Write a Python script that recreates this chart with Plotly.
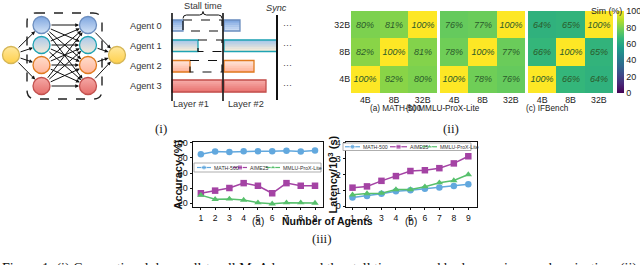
import plotly.graph_objects as go

W, H = 640, 265

# ---------------- data ----------------
agents = [1, 2, 3, 4, 5, 6, 7, 8, 9]
series_names = ["MATH-500", "AIME25", "MMLU-ProX-Lite"]
acc_math = [85, 88.5, 88, 89, 89, 89, 89.5, 88.5, 90]
acc_aime = [33, 36.5, 40, 46.5, 43, 33, 46.5, 43, 43]
acc_mmlu = [30.5, 25, 25.5, 24, 20.5, 19, 20.5, 20.5, 20]
lat_math = [0.55, 0.65, 0.78, 0.95, 1.0, 1.1, 1.18, 1.28, 1.38]
lat_aime = [1.17, 1.25, 1.6, 1.9, 2.22, 2.27, 2.4, 2.7, 3.15]
lat_mmlu = [0.72, 0.8, 0.82, 1.05, 1.05, 1.23, 1.48, 1.62, 2.0]
acc_ticks = [20, 40, 60, 80, 100]
lat_ticks = [0, 1, 2, 3, 4]

model_sizes = ["4B", "8B", "32B"]
heat_titles = ["(a) MATH-500", "(b) MMLU-ProX-Lite", "(c) IFBench"]
sim_math = [[100, 82, 80], [82, 100, 81], [80, 81, 100]]
sim_mmlu = [[100, 78, 76], [78, 100, 77], [76, 77, 100]]
sim_ifb = [[100, 66, 64], [66, 100, 65], [64, 65, 100]]
sim_ticks = [0, 20, 40, 60, 80, 100]

agent_labels = ["Agent 0", "Agent 1", "Agent 2", "Agent 3"]

# ---------------- helpers ----------------
def fx(p):
    return p / W

def fy(p):
    return 1 - p / H

FONT = "Liberation Sans, Arial, sans-serif"
SERIF = "Liberation Serif, Times New Roman, serif"
colors = ["#62A8DE", "#A443A4", "#57C06C"]
symbols = ["circle", "square", "triangle-up"]

fig = go.Figure()
shapes = []
annos = []

# ---------------- heatmaps (ii) ----------------
heat_x = [(351, 437), (440, 525), (528, 613)]
title_cx = [396, 482, 571]
for i, z in enumerate([sim_math, sim_mmlu, sim_ifb]):
    fig.add_trace(go.Heatmap(
        z=z, x=model_sizes, y=model_sizes,
        xaxis="x" if i == 0 else f"x{i+1}", yaxis="y" if i == 0 else f"y{i+1}",
        colorscale="Viridis", zmin=0, zmax=100,
        texttemplate="%{z}%",
        textfont=dict(size=9, color="#2b5a2b", style="italic", family=FONT),
        showscale=(i == 0), hoverinfo="skip",
        colorbar=dict(x=fx(617), xanchor="left", y=fy(52), yanchor="middle",
                      len=82 / H, lenmode="fraction", thickness=6.5, xpad=0, ypad=0,
                      outlinewidth=0, tickvals=sim_ticks, ticks="",
                      tickfont=dict(size=9, family=FONT, color="#222")),
    ))
    annos.append(dict(x=fx(title_cx[i]), y=fy(108.5), xref="paper", yref="paper",
                      text=heat_titles[i], showarrow=False, font=dict(size=8.2, family=FONT, color="#222")))

annos.append(dict(x=fx(624), y=fy(4), xref="paper", yref="paper", text="Sim (%)", showarrow=False,
                  font=dict(size=8.8, family=FONT, color="#222")))

# ---------------- line charts (iii) ----------------
for ys, name, c, s in zip([acc_math, acc_aime, acc_mmlu], series_names, colors, symbols):
    fig.add_trace(go.Scatter(x=agents, y=ys, name=name, xaxis="x4", yaxis="y4", mode="lines+markers",
                             line=dict(color=c, width=1.5), marker=dict(symbol=s, size=6.5, color=c),
                             showlegend=False, hoverinfo="skip"))
for ys, name, c, s in zip([lat_math, lat_aime, lat_mmlu], series_names, colors, symbols):
    fig.add_trace(go.Scatter(x=agents, y=ys, name=name, xaxis="x5", yaxis="y5", mode="lines+markers",
                             line=dict(color=c, width=1.5), marker=dict(symbol=s, size=6.5, color=c),
                             showlegend=False, hoverinfo="skip"))

# manual compact legends drawn on the pixel overlay axis
def legend(box, items, fsize):
    x0, x1, y0, y1 = box
    shapes.append(dict(type="rect", xref="x6", yref="y6", x0=x0, x1=x1, y0=y0, y1=y1,
                       line=dict(color="#999", width=0.8), fillcolor="white", layer="below"))
    yc = (y0 + y1) / 2
    for (lx0, lx1), name, c, s in zip(items, series_names, colors, symbols):
        fig.add_trace(go.Scatter(x=[lx0, (lx0 + lx1) / 2, lx1], y=[yc, yc, yc], xaxis="x6", yaxis="y6",
                                 mode="lines+markers", line=dict(color=c, width=1.2),
                                 marker=dict(symbol=s, size=[0, 5, 0], color=c),
                                 showlegend=False, hoverinfo="skip"))
        annos.append(dict(x=lx1 + 0.5, y=yc, xref="x6", yref="y6", xanchor="left", text=name,
                          showarrow=False, font=dict(size=fsize, family=FONT, color="#333")))

legend((194, 321, 163, 172), [(197, 211), (233, 247), (266, 280)], 5.2)
legend((343, 471, 143, 150.5), [(345, 360), (390, 407), (422, 437)], 5.2)

annos += [
    dict(x=fx(169), y=fy(174.5), xref="paper", yref="paper", text="<b>Accuracy (%)</b>", textangle=-90,
         showarrow=False, font=dict(size=11, family=FONT, color="#111")),
    dict(x=fx(332), y=fy(174.5), xref="paper", yref="paper", text="<b>Latency/10<sup>3</sup> (s)</b>",
         textangle=-90, showarrow=False, font=dict(size=11, family=FONT, color="#111")),
    dict(x=fx(258), y=fy(228.5), xref="paper", yref="paper", text="(a)", showarrow=False,
         font=dict(size=10, family=FONT, color="#111")),
    dict(x=fx(411), y=fy(228.5), xref="paper", yref="paper", text="(b)", showarrow=False,
         font=dict(size=10, family=FONT, color="#111")),
    dict(x=fx(327), y=fy(229), xref="paper", yref="paper", text="<b>Number of Agents</b>", showarrow=False,
         font=dict(size=10.5, family=FONT, color="#111")),
    dict(x=fx(153), y=fy(128), xref="paper", yref="paper", text="(i)", showarrow=False,
         font=dict(size=13, family=SERIF, color="#222")),
    dict(x=fx(461), y=fy(128), xref="paper", yref="paper", text="(ii)", showarrow=False,
         font=dict(size=13, family=SERIF, color="#222")),
    dict(x=fx(322), y=fy(248), xref="paper", yref="paper", text="(iii)", showarrow=False,
         font=dict(size=13, family=SERIF, color="#222")),
    dict(x=0, y=fy(258.5), xref="paper", yref="paper", xanchor="left", yanchor="top",
         text="Figure 1: (i) Conventional dense all-to-all MoA layer and the stall time caused by layer-wise synchronization; (ii) output similarity",
         showarrow=False, font=dict(size=14, family=SERIF, color="#111")),
]

# ---------------- network diagram (i) ----------------
r = 8.5
in_node = (11, 55)
out_node = (117, 55)
col1_x, col2_x = 41.5, 88
rows_y = [25, 45, 65, 86]
node_top = ["#7EA6E0", "#A9C8EA", "#FFDCCB", "#F5A9A6"]
node_bot = ["#D4E3F6", "#F5EBD8", "#FFB59C", "#E56E6B"]
node_line = ["#6C8EBF", "#1FA3B3", "#E07A1F", "#C2504D"]

def arrow(p0, p1):
    annos.append(dict(x=p1[0], y=p1[1], ax=p0[0], ay=p0[1], xref="x6", yref="y6", axref="x6", ayref="y6",
                      text="", showarrow=True, arrowhead=2, arrowsize=0.75, arrowwidth=1, arrowcolor="#111",
                      standoff=r + 0.5, startstandoff=r))

for yv in rows_y:
    arrow(in_node, (col1_x, yv))
for y0 in rows_y:
    for y1 in rows_y:
        arrow((col1_x, y0), (col2_x, y1))
for yv in rows_y:
    arrow((col2_x, yv), out_node)

nx = [in_node[0], out_node[0]] + [col1_x] * 4 + [col2_x] * 4
ny = [in_node[1], out_node[1]] + rows_y + rows_y
ctop = ["#FFE89E", "#FFE89E"] + node_top + node_top
cbot = ["#FFD04A", "#FFD04A"] + node_bot + node_bot
cline = ["#D6B656", "#D6B656"] + node_line + node_line
fig.add_trace(go.Scatter(x=nx, y=ny, xaxis="x6", yaxis="y6", mode="markers", showlegend=False, hoverinfo="skip",
                         marker=dict(size=2 * r, color=ctop, gradient=dict(type="vertical", color=cbot),
                                     line=dict(color=cline, width=1.3))))

bx0, bx1, by0, by1, br = 27, 102, 13, 99, 9
path = (f"M {bx0+br},{by0} L {bx1-br},{by0} Q {bx1},{by0} {bx1},{by0+br} L {bx1},{by1-br} "
        f"Q {bx1},{by1} {bx1-br},{by1} L {bx0+br},{by1} Q {bx0},{by1} {bx0},{by1-br} "
        f"L {bx0},{by0+br} Q {bx0},{by0} {bx0+br},{by0} Z")
shapes.append(dict(type="path", xref="x6", yref="y6", path=path, line=dict(color="#222", width=1.4, dash="dash")))

# ---------------- timeline diagram (i) ----------------
def hexrgb(h):
    h = h.lstrip("#")
    return [int(h[i:i + 2], 16) for i in (0, 2, 4)]

def grad_rect(x0, x1, y0, y1, c0, c1, border, n=6):
    a, b = hexrgb(c0), hexrgb(c1)
    hh = (y1 - y0) / n
    for k in range(n):
        t = k / (n - 1)
        c = "rgb(%d,%d,%d)" % tuple(round(a[j] + (b[j] - a[j]) * t) for j in range(3))
        shapes.append(dict(type="rect", xref="x6", yref="y6", x0=x0, x1=x1, y0=y0 + k * hh - 0.2,
                           y1=y0 + (k + 1) * hh + 0.2, line=dict(width=0), fillcolor=c))
    shapes.append(dict(type="rect", xref="x6", yref="y6", x0=x0, x1=x1, y0=y0, y1=y1,
                       line=dict(color=border, width=1.3)))

bar_rows = [(20, 31), (40, 51.5), (60.5, 72), (80, 92)]
bar_top = ["#7EA6E0", "#A9C8EA", "#FFE3D6", "#F6AAA7"]
bar_bot = ["#C9DBF3", "#F5EAD5", "#FFB69E", "#EA7774"]
layer1_end = [183, 198, 190, 222]
layer2_end = [240, 277, 254, 266]
for k in range(4):
    y0, y1 = bar_rows[k]
    grad_rect(172, layer1_end[k], y0, y1, bar_top[k], bar_bot[k], node_line[k])
    grad_rect(224, layer2_end[k], y0, y1, bar_top[k], bar_bot[k], node_line[k])
    if layer1_end[k] < 222:
        shapes.append(dict(type="rect", xref="x6", yref="y6", x0=layer1_end[k], x1=222, y0=y0, y1=y1,
                           line=dict(color="#111", width=1.2, dash="dash")))
    annos.append(dict(x=164, y=(y0 + y1) / 2, xref="x6", yref="y6", xanchor="right", text=agent_labels[k],
                      showarrow=False, font=dict(size=9.2, family=FONT, color="#333")))
    annos.append(dict(x=281, y=(y0 + y1) / 2 - 1, xref="x6", yref="y6", xanchor="left", text="···",
                      showarrow=False, font=dict(size=9, family=FONT, color="#444")))

for xv, ya, yb, wd in [(172, 13, 101, 1.6), (223, 13, 101, 1.6), (277, 15, 100, 2)]:
    shapes.append(dict(type="line", xref="x6", yref="y6", x0=xv, x1=xv, y0=ya, y1=yb,
                       line=dict(color="#111", width=wd)))

brace = ("M 183,18.5 Q 183,15 186.5,15 L 199.5,15 Q 203,15 203,11.5 "
         "Q 203,15 206.5,15 L 218.5,15 Q 222,15 222,18.5")
shapes.append(dict(type="path", xref="x6", yref="y6", path=brace, line=dict(color="#111", width=1)))
annos += [
    dict(x=203, y=6, xref="x6", yref="y6", text="Stall time", showarrow=False,
         font=dict(size=9.2, family=FONT, color="#333")),
    dict(x=276, y=8, xref="x6", yref="y6", text="<i>Sync</i>", showarrow=False,
         font=dict(size=9.2, family=FONT, color="#333")),
    dict(x=191, y=104, xref="x6", yref="y6", text="Layer #1", showarrow=False,
         font=dict(size=9.2, family=FONT, color="#333")),
    dict(x=246, y=104, xref="x6", yref="y6", text="Layer #2", showarrow=False,
         font=dict(size=9.2, family=FONT, color="#333")),
]

# ---------------- layout ----------------
layout = dict(width=W, height=H, margin=dict(l=0, r=0, t=0, b=0, pad=0, autoexpand=False),
              paper_bgcolor="white", plot_bgcolor="rgba(0,0,0,0)", showlegend=False,
              font=dict(family=FONT, color="#222"))
for i, (x0, x1) in enumerate(heat_x):
    xn = "xaxis" if i == 0 else f"xaxis{i+1}"
    yn = "yaxis" if i == 0 else f"yaxis{i+1}"
    layout[xn] = dict(domain=[fx(x0), fx(x1)], anchor="y" if i == 0 else f"y{i+1}", type="category",
                      showgrid=False, zeroline=False, showline=False, ticks="",
                      tickfont=dict(size=8.8, family=FONT, color="#222"), fixedrange=True)
    layout[yn] = dict(domain=[fy(93), fy(11)], anchor="x" if i == 0 else f"x{i+1}", type="category",
                      showgrid=False, zeroline=False, showline=False, ticks="", showticklabels=(i == 0),
                      tickfont=dict(size=8.8, family=FONT, color="#222"), fixedrange=True)

axis_style = dict(showline=True, mirror=True, linecolor="#111", linewidth=1.4, showgrid=False, zeroline=False,
                  ticks="outside", ticklen=2, tickwidth=1, tickcolor="#111", fixedrange=True)
xfont = dict(size=8.6, family=FONT, color="#111")
yfont = dict(size=9, family=FONT, color="#111")
layout["xaxis4"] = dict(domain=[fx(193), fx(323)], anchor="y4", range=[0.45, 9.56], tickvals=agents,
                        tickfont=xfont, **axis_style)
layout["yaxis4"] = dict(domain=[fy(207), fy(142)], anchor="x4", range=[14.7, 101.3], tickvals=acc_ticks,
                        tickfont=yfont, **axis_style)
layout["xaxis5"] = dict(domain=[fx(346), fx(477)], anchor="y5", range=[0.55, 9.6], tickvals=agents,
                        tickfont=xfont, **axis_style)
layout["yaxis5"] = dict(domain=[fy(207), fy(142)], anchor="x5", range=[-0.05, 4.05], tickvals=lat_ticks,
                        tickfont=yfont, **axis_style)
layout["xaxis6"] = dict(domain=[0, 1], anchor="y6", range=[0, W], visible=False, fixedrange=True)
layout["yaxis6"] = dict(domain=[0, 1], anchor="x6", range=[H, 0], visible=False, fixedrange=True)
layout["shapes"] = shapes
layout["annotations"] = annos
fig.update_layout(**layout)

fig.write_html("out.html", config={"displayModeBar": False, "staticPlot": True},
               post_script="document.body.style.margin='0';document.body.style.padding='0';document.body.style.overflow='hidden';")
